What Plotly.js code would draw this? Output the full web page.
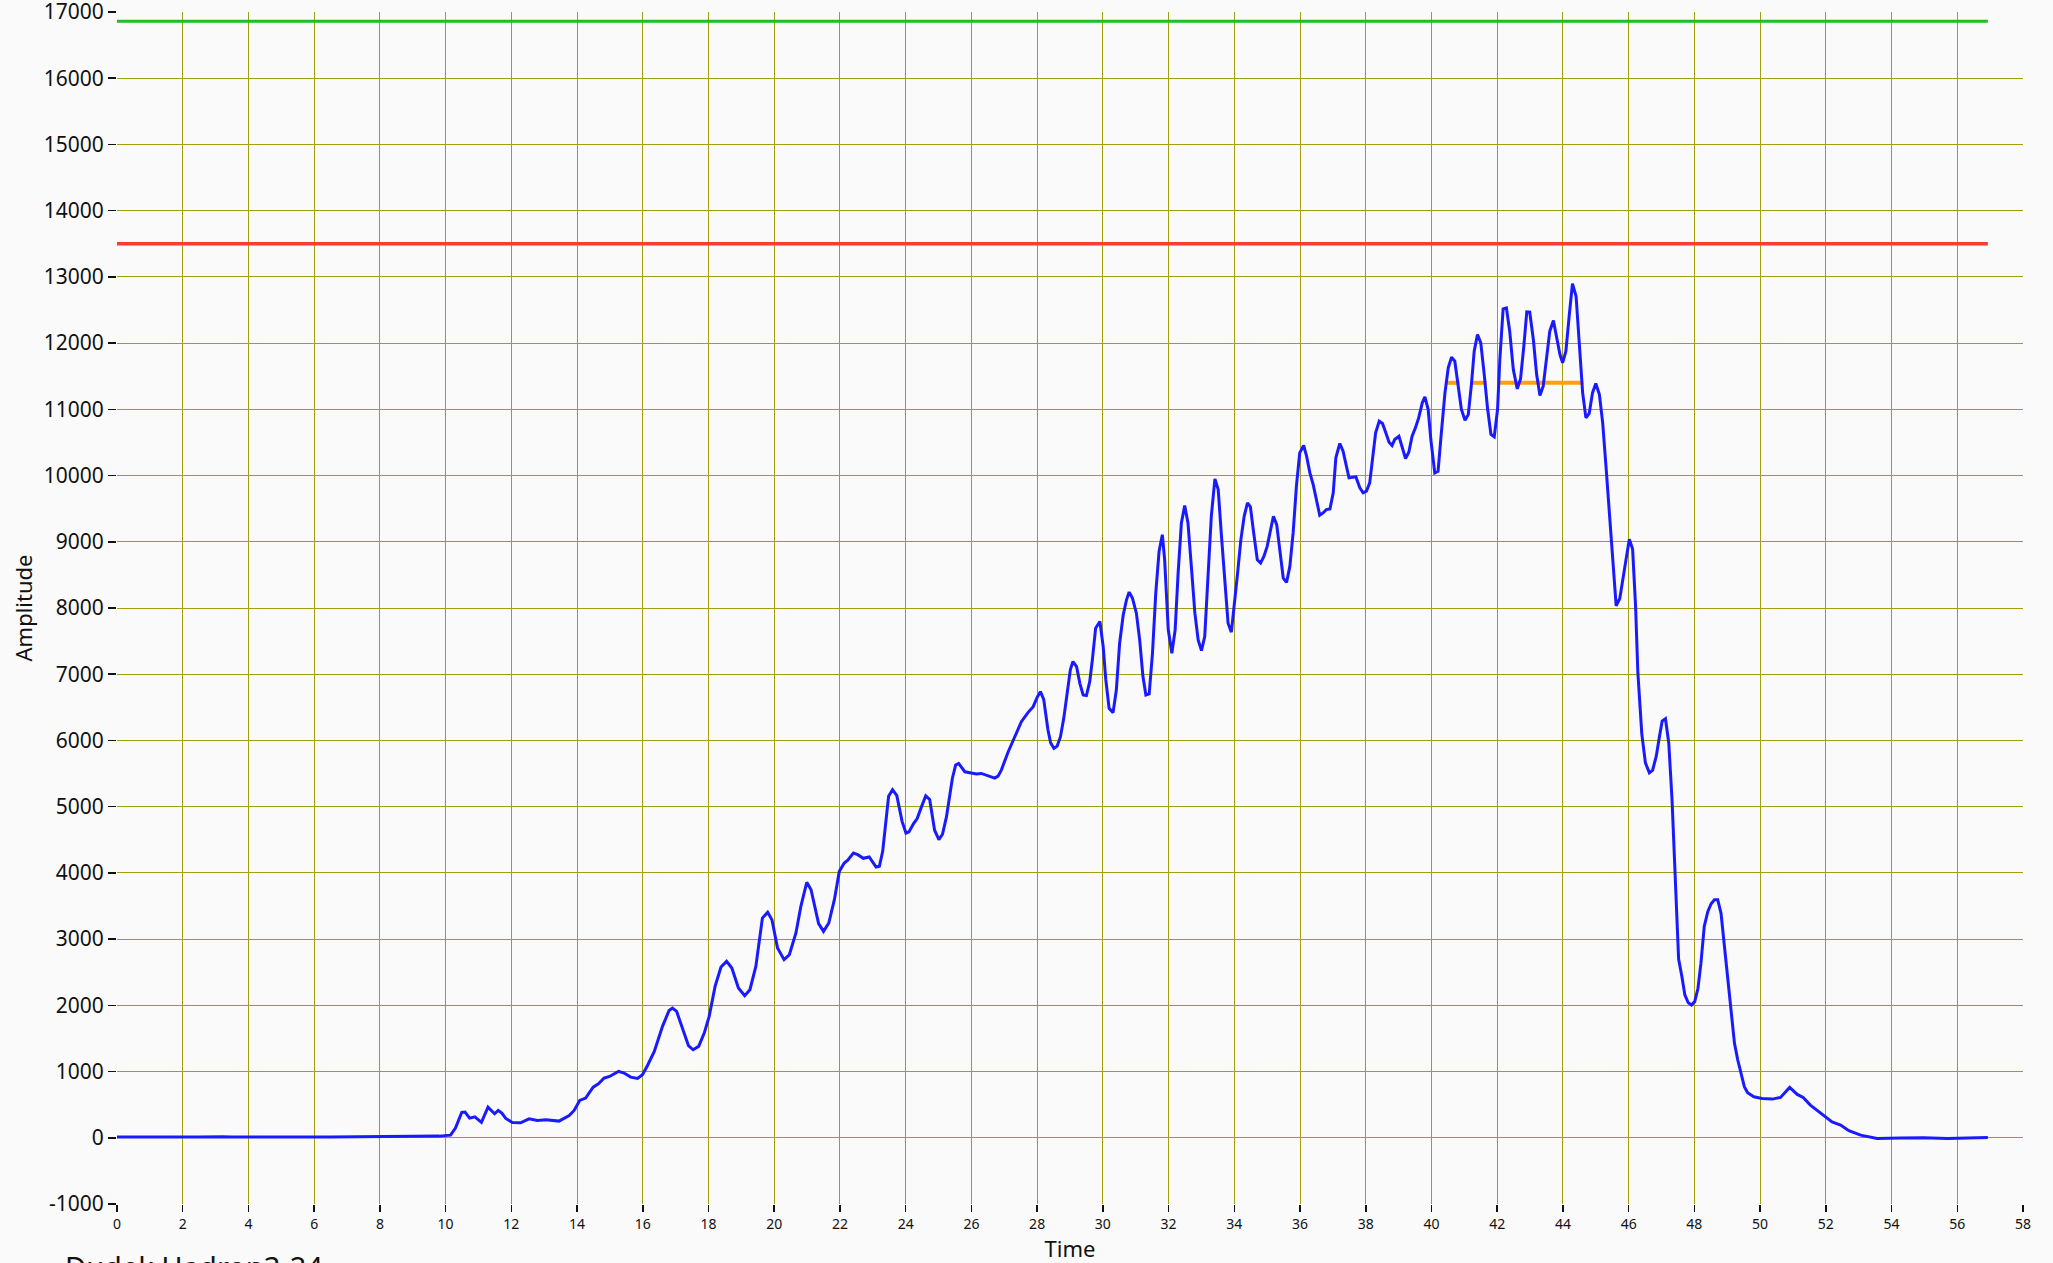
<!DOCTYPE html>
<html>
<head>
<meta charset="utf-8">
<script src="https://cdn.plot.ly/plotly-3.0.1.min.js"></script>
<style>
html,body{margin:0;padding:0;background:#fafafa;}
#chart{width:2053px;height:1263px;}
</style>
</head>
<body>
<div id="chart"></div>
<script>
// ---- data ----
const time = [
0, 0.5, 1, 1.5, 2, 2.5, 3, 3.2, 3.5, 4, 4.5, 5, 5.5, 6, 6.5, 7, 7.5, 8, 8.5, 9, 9.5, 9.8,
10.15, 10.3, 10.49, 10.59, 10.73, 10.89, 11.09, 11.29, 11.49, 11.6, 11.71, 11.83, 12.03, 12.28, 12.54, 12.79,
13.05, 13.45, 13.76, 13.91, 14.08, 14.26, 14.49, 14.65, 14.82, 14.99, 15.26, 15.43, 15.63, 15.84, 15.99,
16.14, 16.35, 16.6, 16.8, 16.9, 17.03, 17.21, 17.39, 17.53, 17.7, 17.87, 18.02, 18.2, 18.38, 18.55, 18.71,
18.91, 19.1, 19.26, 19.44, 19.64, 19.8, 19.93, 20.1, 20.3, 20.46, 20.66, 20.81, 20.99, 21.12, 21.35, 21.5,
21.66, 21.83, 21.98, 22.13, 22.23, 22.41, 22.54, 22.71, 22.89, 23.1, 23.2, 23.3, 23.48, 23.6, 23.73, 23.89,
24.01, 24.1, 24.24, 24.35, 24.48, 24.61, 24.73, 24.88, 25.01, 25.12, 25.24, 25.42, 25.52, 25.61, 25.8,
26.15, 26.3, 26.51, 26.71, 26.81, 26.91, 27.12, 27.32, 27.52, 27.72, 27.88, 28.0, 28.1, 28.2, 28.33, 28.41,
28.51, 28.61, 28.71, 28.81, 28.91, 29.01, 29.09, 29.2, 29.3, 29.4, 29.5, 29.6, 29.68, 29.78, 29.91, 30.01,
30.09, 30.19, 30.31, 30.41, 30.51, 30.62, 30.72, 30.8, 30.9, 31.02, 31.12, 31.22, 31.31, 31.41, 31.51, 31.61,
31.71, 31.81, 31.88, 31.99, 32.1, 32.2, 32.29, 32.39, 32.49, 32.59, 32.7, 32.8, 32.9, 33.0, 33.1, 33.2, 33.3,
33.41, 33.51, 33.61, 33.71, 33.81, 33.91, 33.99, 34.1, 34.2, 34.3, 34.4, 34.49, 34.59, 34.7, 34.8, 34.9, 35.0,
35.1, 35.19, 35.29, 35.38, 35.49, 35.59, 35.69, 35.79, 35.89, 35.99, 36.11, 36.2, 36.3, 36.4, 36.5, 36.6, 36.7,
36.8, 36.91, 37.01, 37.09, 37.21, 37.31, 37.49, 37.7, 37.82, 37.92, 38.02, 38.12, 38.2, 38.3, 38.41, 38.51,
38.61, 38.71, 38.8, 38.88, 39.01, 39.11, 39.21, 39.31, 39.41, 39.51, 39.61, 39.72, 39.8, 39.9, 39.98, 40.1,
40.2, 40.3, 40.41, 40.51, 40.61, 40.71, 40.81, 40.91, 41.02, 41.12, 41.22, 41.3, 41.4, 41.5, 41.6, 41.71,
41.81, 41.91, 42.01, 42.08, 42.18, 42.28, 42.38, 42.49, 42.61, 42.71, 42.81, 42.9, 42.99, 43.1, 43.2, 43.3,
43.4, 43.5, 43.6, 43.71, 43.81, 43.91, 43.99, 44.09, 44.19, 44.29, 44.4, 44.5, 44.6, 44.7, 44.8, 44.9, 45.0,
45.11, 45.21, 45.31, 45.4, 45.52, 45.62, 45.73, 45.84, 45.94, 46.02, 46.12, 46.21, 46.28, 46.4, 46.51, 46.63,
46.73, 46.84, 46.94, 47.02, 47.12, 47.22, 47.32, 47.42, 47.52, 47.62, 47.71, 47.81, 47.91, 48.01, 48.11, 48.2,
48.3, 48.41, 48.51, 48.61, 48.71, 48.81, 48.91, 49.02, 49.12, 49.22, 49.32, 49.42, 49.52, 49.62, 49.81, 50.06,
50.37, 50.62, 50.77, 50.9, 51.13, 51.31, 51.53, 51.84, 52.19, 52.45, 52.7, 53.06, 53.56, 54.27, 54.98, 55.7,
56.3, 56.93
];
const amplitude = [
10, 8, 10, 8, 10, 12, 20, 15, 10, 12, 10, 15, 10, 12, 10, 12, 10, 15, 12, 20, 25, 25,
40, 146, 383, 388, 297, 317, 232, 463, 363, 413, 373, 292, 232, 227, 287, 262,
272, 252, 337, 413, 564, 599, 765, 816, 901, 926, 1002, 977, 916, 896, 952,
1088, 1304, 1682, 1923, 1959, 1908, 1631, 1390, 1329, 1380, 1581, 1833, 2286, 2578, 2664, 2563,
2261, 2145, 2236, 2588, 3318, 3404, 3293, 2865, 2689, 2764, 3092, 3494, 3857, 3746, 3233, 3117,
3243, 3595, 4023, 4149, 4189, 4300, 4275, 4220, 4240, 4089, 4099, 4325, 5156, 5257, 5166, 4778,
4600, 4619, 4745, 4821, 4997, 5164, 5108, 4644, 4503, 4584, 4846, 5426, 5628, 5653, 5527,
5492, 5502, 5461, 5431, 5461, 5552, 5830, 6056, 6283, 6420, 6510, 6651, 6737, 6621, 6157, 5966,
5880, 5915, 6056, 6334, 6737, 7065, 7191, 7115, 6863, 6687, 6677, 6888, 7216, 7695, 7796, 7418,
6914, 6485, 6420, 6762, 7468, 7897, 8124, 8240, 8149, 7922, 7519, 6964, 6687, 6702, 7317, 8225,
8855, 9107, 8729, 7670, 7317, 7670, 8527, 9284, 9546, 9284, 8578, 7922, 7519, 7357, 7569, 8427, 9385,
9950, 9788, 9082, 8376, 7771, 7635, 7973, 8527, 9032, 9385, 9586, 9526, 9133, 8729, 8679, 8780, 8931,
9183, 9385, 9259, 8880, 8452, 8386, 8628, 9133, 9839, 10343, 10454, 10292, 10040, 9864, 9637, 9400, 9435,
9486, 9496, 9738, 10267, 10484, 10368, 9965, 9980, 9814, 9739, 9764, 9890, 10242, 10645, 10821, 10786,
10645, 10504, 10453, 10544, 10594, 10418, 10257, 10353, 10594, 10720, 10871, 11098, 11188, 10997, 10544, 10041,
10066, 10645, 11249, 11626, 11787, 11727, 11349, 10997, 10836, 10921, 11400, 11878, 12129, 12004, 11551, 10997,
10620, 10584, 10997, 11752, 12517, 12532, 12180, 11601, 11309, 11460, 11953, 12472, 12467, 12054, 11525, 11208,
11349, 11752, 12180, 12341, 12104, 11827, 11702, 11878, 12406, 12899, 12708, 12054, 11249, 10871, 10937, 11249, 11390,
11223, 10796, 10141, 9500, 8608, 8032, 8143, 8486, 8839, 9040, 8889, 8032, 7023, 6100, 5662, 5511,
5551, 5763, 6066, 6292, 6328, 5965, 5107, 3850, 2700, 2435, 2157, 2041, 2006, 2056, 2258, 2636,
3191, 3418, 3534, 3595, 3595, 3393, 2939, 2435, 1880, 1426, 1174, 947, 771, 680, 619, 594,
584, 609, 695, 760, 655, 609, 493, 377, 241, 191, 106, 40, -10, -5, 0, -10,
0, 5
];
// reference levels
const upperLimit = 16860;      // green
const alarmLevel = 13500;      // red
const thresholdLevel = 11400;  // orange
const limitSpan = [0, 56.93];
// orange segments: intervals where amplitude exceeds the threshold (null = gap)
const thresholdX = [40.43, 40.85, null, 41.2, 41.68, null, 42.05, 44.62];

const xTicks = [0,2,4,6,8,10,12,14,16,18,20,22,24,26,28,30,32,34,36,38,40,42,44,46,48,50,52,54,56,58];
const yTicks = [-1000,0,1000,2000,3000,4000,5000,6000,7000,8000,9000,10000,11000,12000,13000,14000,15000,16000,17000];

const traces = [
  {x: limitSpan, y: limitSpan.map(() => upperLimit), mode: 'lines', line: {color: '#1fbf1f', width: 3}, hoverinfo: 'skip'},
  {x: limitSpan, y: limitSpan.map(() => alarmLevel), mode: 'lines', line: {color: '#ff3b30', width: 3.5}, hoverinfo: 'skip'},
  {x: thresholdX, y: thresholdX.map(v => v === null ? null : thresholdLevel), mode: 'lines', connectgaps: false, line: {color: '#ffa200', width: 4}, hoverinfo: 'skip'},
  {x: time, y: amplitude, mode: 'lines', line: {color: '#1a1aff', width: 3}}
];

const grid = 'rgb(162,158,12)';
const layout = {
  width: 2053, height: 1263,
  paper_bgcolor: '#fafafa', plot_bgcolor: '#fafafa',
  showlegend: false,
  margin: {l: 117, r: 30, t: 12, b: 59},
  font: {family: '"Noto Sans", sans-serif', color: '#111'},
  xaxis: {
    range: [0, 58], tickvals: xTicks, ticktext: xTicks.map(String),
    showgrid: true, gridcolor: grid, gridwidth: 1,
    zeroline: false, showline: false,
    ticks: 'outside', ticklen: 7, tickwidth: 1.5, tickcolor: '#111',
    ticklabeloverflow: 'allow',
    tickfont: {size: 14, family: '"Noto Sans", sans-serif', color: '#111'},
    title: {text: 'Time', font: {size: 22, family: '"Noto Sans", sans-serif', color: '#111'}, standoff: 11},
    automargin: false
  },
  yaxis: {
    range: [-1000, 17000], tickvals: yTicks, ticktext: yTicks.map(String),
    showgrid: true, gridcolor: grid, gridwidth: 1,
    zeroline: false, showline: false,
    ticks: 'outside', ticklen: 8, tickwidth: 1.5, tickcolor: '#111',
    ticklabeloverflow: 'allow',
    tickfont: {size: 21, family: '"Noto Sans", sans-serif', color: '#111'},
    title: {text: 'Amplitude', font: {size: 22, family: '"Noto Sans", sans-serif', color: '#111'}, standoff: 5},
    automargin: false
  },
  annotations: [{
    text: 'Dudek Hadron3-24', xref: 'paper', yref: 'paper',
    x: -0.0285, y: -0.034, xanchor: 'left', yanchor: 'top', showarrow: false,
    font: {size: 29, family: '"Noto Sans", sans-serif', color: '#111'}
  }]
};

Plotly.newPlot('chart', traces, layout, {displayModeBar: false, staticPlot: true});
</script>
</body>
</html>
